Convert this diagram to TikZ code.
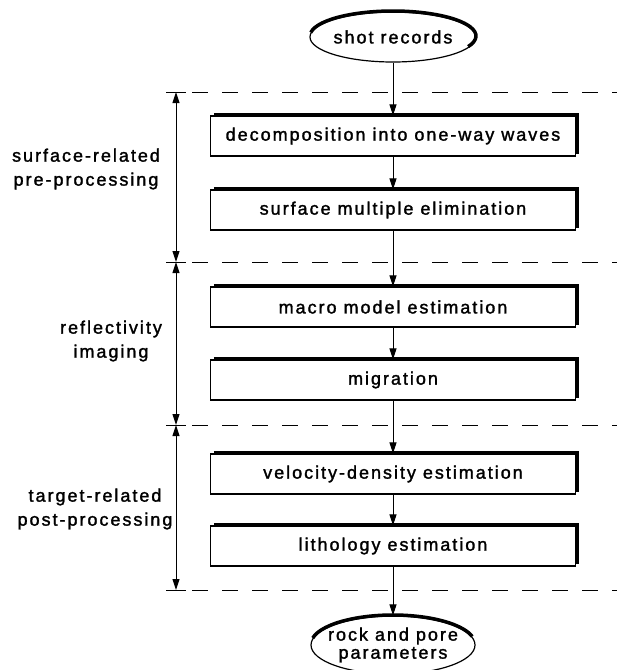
\documentclass[tikz,border=0pt]{standalone}
\usepackage{fontspec}
\newfontfamily\flowfont[LetterSpace=11,FakeBold=1.6]{Liberation Sans}
\usetikzlibrary{shapes.geometric,arrows.meta}
\tikzset{
  stagebox/.style={draw, line width=1.2pt, minimum width=365pt, minimum height=40pt, inner sep=0pt},
  endcap/.style={draw, ellipse, line width=1.2pt, inner xsep=-30pt, inner ysep=-15pt},
  flow/.style={line width=1pt, -{Triangle[length=11pt,width=7pt]}},
  divider/.style={line width=1pt, dash pattern=on 16pt off 14pt},
  span/.style={line width=1pt, {Triangle[length=11pt,width=7pt]}-{Triangle[length=11pt,width=7pt]}},
  shadow/.style={line width=3.5pt},
  phase/.style={align=center}
}

\begin{document}
\begin{tikzpicture}[x=1pt, y=1pt, every node/.style={font=\flowfont\fontsize{18}{24}\selectfont}]
\useasboundingbox (0,0) rectangle (617,-670);
% flow
\node[endcap, minimum width=166pt, minimum height=50pt] (shot) at (393,-37) {shot records};
\node[stagebox] (decomp) at (393,-136) {decomposition into one-way waves};
\node[stagebox] (sme) at (393,-210) {surface multiple elimination};
\node[stagebox] (macro) at (393,-307) {macro model estimation};
\node[stagebox] (migr) at (393,-380) {migration};
\node[stagebox] (veldens) at (393,-474) {velocity-density estimation};
\node[stagebox] (litho) at (393,-546) {lithology estimation};
\node[endcap, minimum width=164pt, minimum height=58pt, align=center] (rock) at (393,-645) {rock and pore\\[-6pt]parameters};

% heavy top and right edges
\foreach \b in {decomp,sme,macro,migr,veldens,litho}
  \draw[shadow] ([xshift=4pt,yshift=1pt]\b.north west) -- ([xshift=1pt,yshift=1pt]\b.north east) -- ([xshift=1pt,yshift=3pt]\b.south east);
\draw[shadow] ([shift={(172:83 and 25)}]shot.center) ++(0,1) arc[start angle=172, end angle=-25, x radius=83, y radius=25];
\draw[shadow] ([shift={(168:82 and 29)}]rock.center) ++(0,1) arc[start angle=168, end angle=15, x radius=82, y radius=29];

\draw[flow] (shot) -- (decomp);
\draw[flow] (decomp) -- (sme);
\draw[flow] (sme) -- (macro);
\draw[flow] (macro) -- (migr);
\draw[flow] (migr) -- (veldens);
\draw[flow] (veldens) -- (litho);
\draw[flow] (litho) -- (rock);

% stage dividers
\foreach \y/\n in {92/d1,262/d2,425/d3,590/d4}{
  \coordinate (\n) at (176,-\y);
  \draw[divider] ([xshift=16pt]\n) -- (617,-\y);
  \draw[line width=1pt] ([xshift=-10pt]\n) -- ([xshift=10pt]\n);
}
\draw[span] (d1) -- (d2);
\draw[span] (d2) -- (d3);
\draw[span] (d3) -- (d4);

\node[phase] (surf) at (86,-169) {surface-related\\pre-processing};
\node[phase] (refl) at (111,-341) {reflectivity\\imaging};
\node[phase] (targ) at (95,-509) {target-related\\post-processing};
\end{tikzpicture}
\end{document}
